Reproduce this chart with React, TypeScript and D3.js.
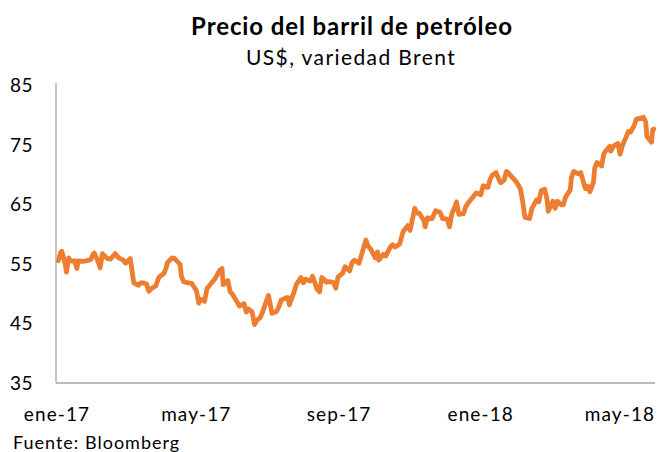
import React from "react";
import * as d3 from "d3";

// Brent, US$ per barrel
const dates: string[] = [
  "2017-01-03", "2017-01-05", "2017-01-06", "2017-01-09", "2017-01-10", "2017-01-12", "2017-01-13",
  "2017-01-17", "2017-01-19", "2017-01-20", "2017-01-24", "2017-01-27", "2017-01-31", "2017-02-02",
  "2017-02-03", "2017-02-07", "2017-02-08", "2017-02-10", "2017-02-14", "2017-02-17", "2017-02-21",
  "2017-02-24", "2017-02-28", "2017-03-02", "2017-03-06", "2017-03-08", "2017-03-09", "2017-03-13",
  "2017-03-15", "2017-03-17", "2017-03-20", "2017-03-22", "2017-03-24", "2017-03-28", "2017-03-30",
  "2017-03-31", "2017-04-04", "2017-04-06", "2017-04-07", "2017-04-11", "2017-04-13", "2017-04-18",
  "2017-04-19", "2017-04-21", "2017-04-25", "2017-04-28", "2017-05-02", "2017-05-04", "2017-05-05",
  "2017-05-09", "2017-05-11", "2017-05-15", "2017-05-18", "2017-05-22", "2017-05-24", "2017-05-25",
  "2017-05-29", "2017-05-31", "2017-06-02", "2017-06-06", "2017-06-08", "2017-06-12", "2017-06-14",
  "2017-06-16", "2017-06-19", "2017-06-21", "2017-06-23", "2017-06-26", "2017-06-28", "2017-07-03",
  "2017-07-05", "2017-07-06", "2017-07-10", "2017-07-12", "2017-07-14", "2017-07-18", "2017-07-20",
  "2017-07-21", "2017-07-25", "2017-07-27", "2017-07-31", "2017-08-02", "2017-08-04", "2017-08-08",
  "2017-08-10", "2017-08-14", "2017-08-16", "2017-08-18", "2017-08-22", "2017-08-24", "2017-08-28",
  "2017-08-30", "2017-09-01", "2017-09-05", "2017-09-07", "2017-09-11", "2017-09-13", "2017-09-15",
  "2017-09-19", "2017-09-21", "2017-09-25", "2017-09-27", "2017-09-29", "2017-10-03", "2017-10-05",
  "2017-10-06", "2017-10-10", "2017-10-12", "2017-10-16", "2017-10-18", "2017-10-20", "2017-10-24",
  "2017-10-27", "2017-10-31", "2017-11-02", "2017-11-06", "2017-11-08", "2017-11-10", "2017-11-14",
  "2017-11-15", "2017-11-17", "2017-11-21", "2017-11-24", "2017-11-28", "2017-11-30", "2017-12-04",
  "2017-12-06", "2017-12-08", "2017-12-11", "2017-12-12", "2017-12-14", "2017-12-18", "2017-12-20",
  "2017-12-22", "2017-12-27", "2017-12-29", "2018-01-02", "2018-01-04", "2018-01-08", "2018-01-10",
  "2018-01-12", "2018-01-15", "2018-01-17", "2018-01-19", "2018-01-22", "2018-01-24", "2018-01-25",
  "2018-01-29", "2018-01-31", "2018-02-02", "2018-02-05", "2018-02-07", "2018-02-09", "2018-02-13",
  "2018-02-15", "2018-02-19", "2018-02-21", "2018-02-23", "2018-02-26", "2018-02-28", "2018-03-01",
  "2018-03-05", "2018-03-07", "2018-03-09", "2018-03-12", "2018-03-14", "2018-03-16", "2018-03-20",
  "2018-03-21", "2018-03-23", "2018-03-27", "2018-03-29", "2018-04-02", "2018-04-04", "2018-04-06",
  "2018-04-09", "2018-04-10", "2018-04-12", "2018-04-16", "2018-04-18", "2018-04-19", "2018-04-23",
  "2018-04-24", "2018-04-26", "2018-04-30", "2018-05-02", "2018-05-04", "2018-05-07", "2018-05-09",
  "2018-05-11", "2018-05-14", "2018-05-16", "2018-05-17", "2018-05-22", "2018-05-24", "2018-05-25",
  "2018-05-29", "2018-05-30", "2018-05-31",
];

const prices: number[] = [
  55.5, 56.9, 57.1, 54.9, 53.6, 56.0, 55.5,
  55.5, 54.2, 55.5, 55.4, 55.5, 55.7, 56.6,
  56.8, 55.0, 54.3, 56.7, 55.9, 55.8, 56.7,
  56.0, 55.6, 55.1, 55.9, 53.1, 51.8, 51.4,
  51.8, 51.8, 51.6, 50.4, 50.8, 51.3, 52.4,
  52.8, 53.4, 54.4, 55.2, 56.0, 55.9, 54.9,
  52.9, 52.0, 51.8, 51.7, 50.5, 48.4, 49.1,
  48.7, 50.8, 51.8, 52.5, 53.9, 54.2, 51.5,
  52.2, 50.3, 49.9, 48.6, 47.9, 48.3, 46.9,
  47.4, 46.9, 44.8, 45.5, 46.0, 46.9, 49.7,
  47.8, 46.7, 47.0, 47.8, 48.9, 49.3, 49.3,
  48.1, 50.2, 51.5, 52.7, 51.8, 52.4, 52.1,
  52.9, 50.7, 50.3, 52.7, 51.9, 52.0, 51.9,
  50.9, 52.8, 53.4, 54.5, 53.8, 55.2, 55.6,
  55.1, 56.4, 59.0, 57.9, 57.5, 56.0, 57.0,
  55.6, 56.6, 56.3, 57.8, 58.2, 57.8, 58.3,
  60.4, 61.4, 60.6, 64.3, 63.5, 63.5, 62.2,
  61.2, 62.7, 62.6, 63.9, 63.6, 62.6, 62.5,
  61.2, 63.4, 64.7, 65.4, 63.3, 63.4, 64.6,
  65.2, 66.4, 66.9, 66.6, 68.1, 67.8, 69.2,
  69.9, 70.3, 69.4, 68.6, 69.0, 70.5, 70.4,
  69.5, 69.1, 68.6, 67.6, 65.5, 62.8, 62.6,
  64.3, 65.7, 65.4, 67.3, 67.5, 65.8, 63.8,
  65.5, 64.3, 65.5, 64.9, 64.9, 66.2, 67.4,
  69.5, 70.5, 70.1, 70.3, 67.6, 68.0, 67.1,
  68.7, 71.0, 72.0, 71.4, 73.5, 73.8, 74.7,
  73.9, 74.7, 75.2, 73.4, 74.9, 76.2, 77.2,
  77.1, 78.2, 79.3, 79.3, 79.6, 78.8, 76.4,
  75.4, 77.5, 77.6,
];

const xTickDates: string[] = ["2017-01-01", "2017-05-01", "2017-09-01", "2018-01-01", "2018-05-01"];
const yTicks: number[] = [35, 45, 55, 65, 75, 85];
const monthNames: string[] = ["ene", "feb", "mar", "abr", "may", "jun", "jul", "ago", "sep", "oct", "nov", "dic"];

const W = 658;
const H = 452;
const FONT = "Lato, 'Open Sans', sans-serif";

const parse = d3.timeParse("%Y-%m-%d");

const App: React.FC = () => {
  const data = dates.map((d, i) => ({ date: parse(d) as Date, value: prices[i] }));

  const x = d3.scaleTime()
    .domain([parse("2017-01-01") as Date, parse("2018-06-01") as Date])
    .range([56, 655]);
  const y = d3.scaleLinear().domain([35, 85]).range([383, 85]);

  const line = d3.line<{ date: Date; value: number }>()
    .x((d) => x(d.date))
    .y((d) => y(d.value))
    .curve(d3.curveLinear);

  const fmt = (d: Date) => `${monthNames[d.getMonth()]}-${String(d.getFullYear()).slice(2)}`;

  return (
    <svg
      width={W}
      height={H}
      style={{ position: "absolute", left: 0, top: 0, background: "#fff" }}
      fontFamily={FONT}
    >
      <text x={352} y={35} textAnchor="middle" fontSize={24} fontWeight="bold" letterSpacing={0.9} fill="#000">
        Precio del barril de petróleo
      </text>
      <text x={351} y={65} textAnchor="middle" fontSize={21} letterSpacing={1.4} fill="#000">
        US$, variedad Brent
      </text>

      {/* axes */}
      <line x1={56} x2={56} y1={83} y2={383} stroke="#a6a6a6" strokeWidth={1.3} />
      <line x1={56} x2={655} y1={383} y2={383} stroke="#a6a6a6" strokeWidth={1.3} />

      {yTicks.map((t) => (
        <text key={t} x={33} y={y(t) + 7} textAnchor="end" fontSize={19} letterSpacing={0.5} fill="#000">
          {t}
        </text>
      ))}

      {xTickDates.map((s) => {
        const d = parse(s) as Date;
        return (
          <text key={s} x={x(d) + 1} y={421} textAnchor="middle" fontSize={19} letterSpacing={1.1} fill="#000">
            {fmt(d)}
          </text>
        );
      })}

      <path
        d={line(data) || ""}
        fill="none"
        stroke="#ed7d31"
        strokeWidth={4.8}
        strokeLinejoin="round"
        strokeLinecap="round"
      />

      <text x={13} y={449} fontSize={18} letterSpacing={1} fill="#000">
        Fuente: Bloomberg
      </text>
    </svg>
  );
};

export default App;
